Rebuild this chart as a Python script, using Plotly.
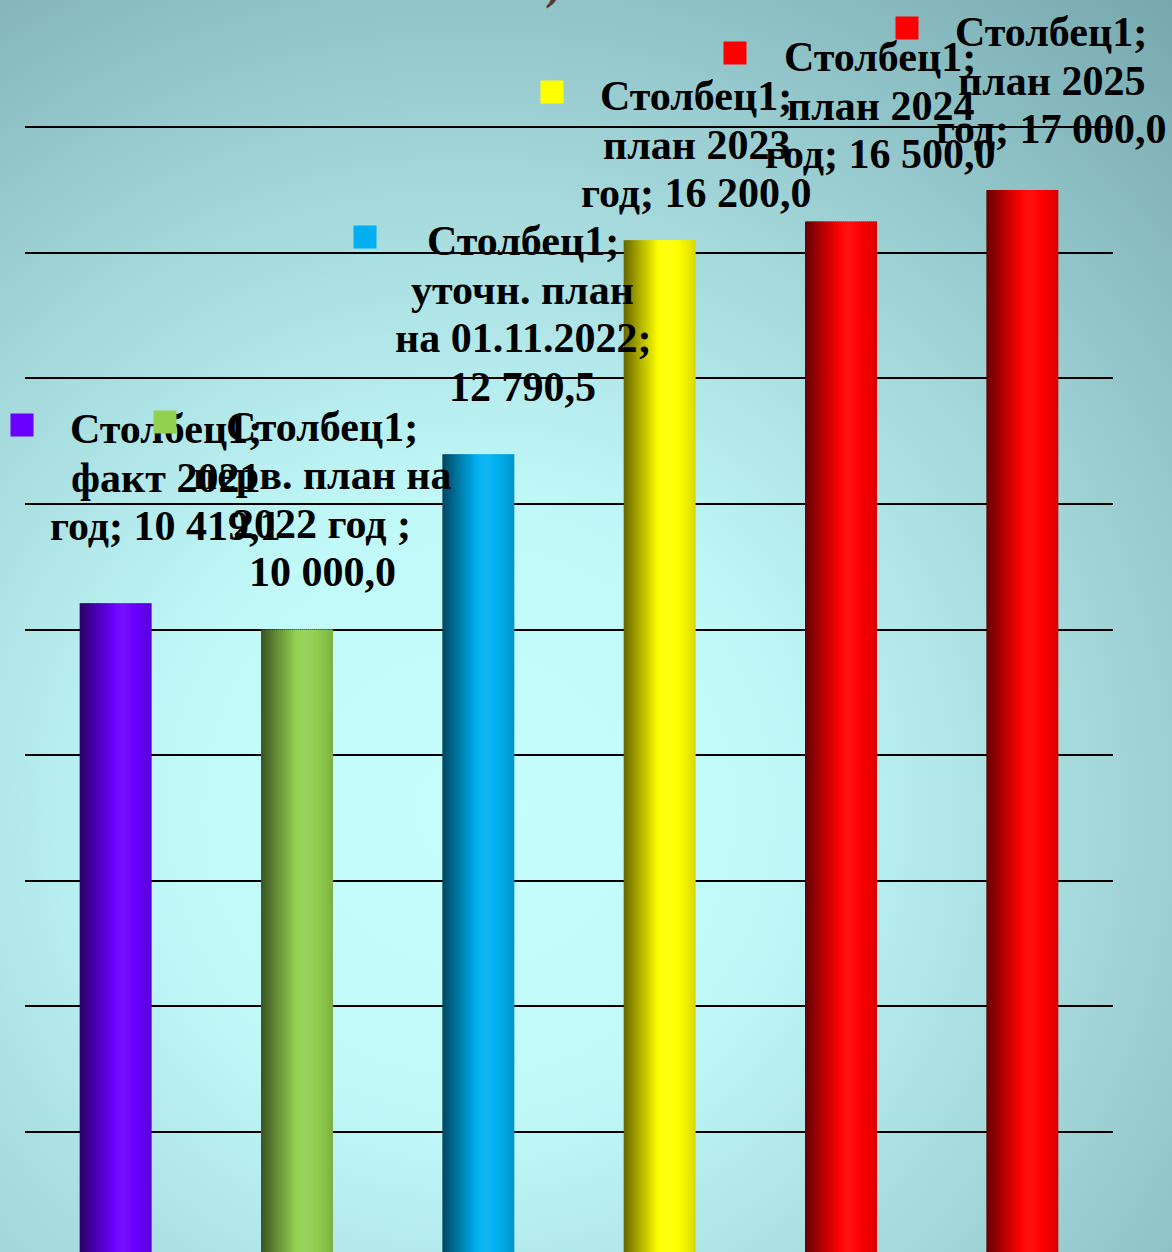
import base64
import plotly.graph_objects as go

# ---------------- data ----------------
series_name = "Столбец1"
categories = ["факт 2021 год", "перв. план на 2022 год", "уточн. план на 01.11.2022",
              "план 2023 год", "план 2024 год", "план 2025 год"]
values = [10419.1, 10000.0, 12790.5, 16200.0, 16500.0, 17000.0]
# category text as wrapped in the data labels ({v} = value)
label_templates = [
    ["факт 2021", "год; {v}"],
    ["перв. план на", "2022 год ;", "{v}"],
    ["уточн. план", "на 01.11.2022;", "{v}"],
    ["план 2023", "год; {v}"],
    ["план 2024", "год; {v}"],
    ["план 2025", "год; {v}"],
]
title_digits = "2022"
title_close = ")"

# ---------------- style ----------------
bar_colors = ["#6a00ff", "#92d050", "#00b0f0", "#ffff00", "#ff0000", "#ff0000"]
label_dx = [50, 25, 44.5, 36.5, 39, 29]
label_dy_first = [174, 203, 213, 144, 164, 158]
line_gap = 48.5
key_dx = [-94, -132, -113.5, -107.5, -105.7, -115.5]
key_dy = [178, 208, 217, 148, 168, 162]
label_font = dict(family="Liberation Serif", size=42, color="black", weight="bold")

W, H = 1172, 1252
ML, MR, MT, MB = 25, 59, 120, 0
px_per_unit = 125.6 / 2000.0
zero_px = 1257.6
y_max = (zero_px - MT) / px_per_unit
y_min = (zero_px - (H - MB)) / px_per_unit


def fmt(v):
    return f"{v:,.1f}".replace(",", " ").replace(".", ",")


def hex2rgb(h):
    h = h.lstrip("#")
    return [int(h[i:i + 2], 16) for i in (0, 2, 4)]


# cylinder shading profile (t across the bar -> brightness factor)
profile_t = [0.0, 0.1, 0.25, 0.4, 0.5, 0.6, 0.7, 0.8, 0.9, 1.0]
profile_f = [0.40, 0.52, 0.72, 0.90, 1.03, 1.07, 1.03, 0.97, 0.92, 0.84]


def shade(hexcol, t):
    f = profile_f[-1]
    for j in range(len(profile_t) - 1):
        if profile_t[j] <= t <= profile_t[j + 1]:
            a = (t - profile_t[j]) / (profile_t[j + 1] - profile_t[j])
            f = profile_f[j] * (1 - a) + profile_f[j + 1] * a
            break
    r, g, b = hex2rgb(hexcol)
    if f <= 1:
        c = [v * f for v in (r, g, b)]
    else:
        m = f - 1
        c = [v + (255 - v) * m for v in (r, g, b)]
    return "rgb(%d,%d,%d)" % tuple(max(0, min(255, round(v))) for v in c)


fig = go.Figure()

bar_width = 0.397
n_strips = 36
step = bar_width / n_strips
for s in range(n_strips):
    t = (s + 0.5) / n_strips
    last = s == n_strips - 1
    fig.add_trace(go.Bar(
        x=categories, y=values,
        width=step * (1.0 if last else 1.6),
        offset=-bar_width / 2 + s * step,
        marker=dict(color=[shade(c, t) for c in bar_colors], line=dict(width=0)),
        showlegend=False, hoverinfo="skip",
    ))

# data labels (one annotation per line) with legend keys
for i, (cat, v) in enumerate(zip(categories, values)):
    lines = [f"{series_name};"] + [s.format(v=fmt(v)) for s in label_templates[i]]
    for k, line in enumerate(lines):
        fig.add_annotation(
            x=cat, y=v, xref="x", yref="y", text=line, showarrow=False,
            xanchor="center", yanchor="middle", align="center",
            xshift=label_dx[i], yshift=label_dy_first[i] - k * line_gap,
            font=label_font,
        )
    fig.add_annotation(
        x=cat, y=v, xref="x", yref="y", text="&nbsp;", showarrow=False,
        xanchor="center", yanchor="middle", width=22, height=22, borderpad=0,
        bgcolor=bar_colors[i], xshift=key_dx[i], yshift=key_dy[i],
        font=dict(size=4),
    )

# cut-off title fragment
fig.add_annotation(
    xref="paper", yref="paper", x=(563 - ML) / (W - ML - MR), y=(H - 11) / (H - MT - MB),
    xanchor="right", yanchor="bottom",
    text=f"<span style='color:#93adae'>{title_digits}</span>{title_close}", showarrow=False,
    font=dict(family="Liberation Serif", size=48, color="#5b3a2e", weight="bold"),
)

# background radial gradient
svg = f"""<svg xmlns='http://www.w3.org/2000/svg' width='{W}' height='{H}' viewBox='0 0 {W} {H}' preserveAspectRatio='none'>
<defs><radialGradient id='g' gradientUnits='userSpaceOnUse' cx='470' cy='810' r='1072'>
<stop offset='0' stop-color='rgb(198,253,253)'/>
<stop offset='0.28' stop-color='rgb(193,249,249)'/>
<stop offset='0.6' stop-color='rgb(162,214,217)'/>
<stop offset='1' stop-color='rgb(118,168,174)'/>
</radialGradient></defs>
<rect x='0' y='0' width='{W}' height='{H}' fill='url(#g)'/></svg>"""
src = "data:image/svg+xml;base64," + base64.b64encode(svg.encode()).decode()
pw, ph = W - ML - MR, H - MT - MB
fig.add_layout_image(
    source=src, xref="paper", yref="paper",
    x=-ML / pw, y=1 + MT / ph, sizex=W / pw, sizey=H / ph,
    xanchor="left", yanchor="top", sizing="stretch", layer="below",
)

fig.update_layout(
    width=W, height=H, margin=dict(l=ML, r=MR, t=MT, b=MB),
    barmode="overlay",
    paper_bgcolor="rgba(0,0,0,0)", plot_bgcolor="rgba(0,0,0,0)",
    showlegend=False,
    xaxis=dict(type="category", range=[-0.5, 5.5], showgrid=False, showticklabels=False,
               zeroline=False, showline=False, ticks=""),
    yaxis=dict(range=[y_min, y_max], tick0=0, dtick=2000, showgrid=True,
               gridcolor="#000000", gridwidth=2.2, showticklabels=False,
               zeroline=False, showline=False, ticks=""),
)

fig.write_html(
    "out.html",
    config={"displayModeBar": False},
    post_script="document.body.style.margin='0';document.body.style.overflow='hidden';",
)
